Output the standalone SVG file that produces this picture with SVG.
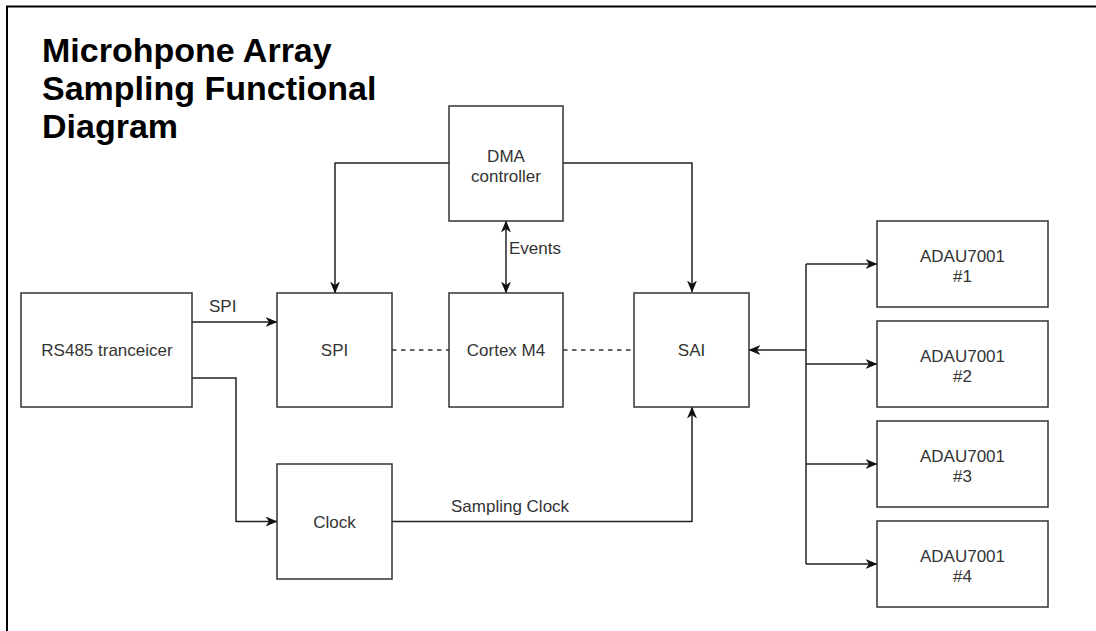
<svg xmlns="http://www.w3.org/2000/svg" width="1096" height="631" viewBox="0 0 1096 631">
  <defs>
    <marker id="arr" viewBox="0 0 12 10" markerWidth="12" markerHeight="10" refX="11.5" refY="5" orient="auto-start-reverse" markerUnits="userSpaceOnUse">
      <path d="M0,0 L12,5 L0,10 L3.5,5 z" fill="#111"/>
    </marker>
    <style>
      .box { fill: #fff; stroke: #333; stroke-width: 1.5; }
      .lbl { font-family: "Liberation Sans", Arial, sans-serif; font-size: 17px; fill: #333; text-anchor: middle; }
      .elbl { font-family: "Liberation Sans", Arial, sans-serif; font-size: 17px; fill: #333; }
      .title { font-family: "Liberation Sans", Arial, sans-serif; font-size: 34px; font-weight: bold; fill: #000; }
      .wire { fill: none; stroke: #222; stroke-width: 1.5; }
      .arrow { marker-end: url(#arr); }
      .dash { fill: none; stroke: #333; stroke-width: 1.5; stroke-dasharray: 4.5 4.5; }
    </style>
  </defs>
  <rect width="1096" height="631" fill="#fff"/>
  <path d="M7,631 V6.5 H1096" fill="none" stroke="#000" stroke-width="2"/>

  <g id="title">
    <text class="title" x="42" y="62">Microhpone Array</text>
    <text class="title" x="42" y="100">Sampling Functional</text>
    <text class="title" x="42" y="138">Diagram</text>
  </g>

  <g id="connectors">
    <path class="wire arrow" d="M192,322 H277"/>
    <path class="wire arrow" d="M192,378 H236 V521.5 H277"/>
    <path class="wire arrow" d="M449,163 H335 V293"/>
    <path class="wire arrow" d="M563,163 H692 V292"/>
    <path class="wire" d="M506,221 V293" marker-start="url(#arr)" marker-end="url(#arr)"/>
    <path class="wire arrow" d="M392,521.5 H692 V407"/>
    <path class="wire arrow" d="M806,350 H749"/>
    <path class="wire" d="M806,264 V564"/>
    <path class="wire arrow" d="M806,264 H877"/>
    <path class="wire arrow" d="M806,364 H877"/>
    <path class="wire arrow" d="M806,464 H877"/>
    <path class="wire arrow" d="M806,564 H877"/>
    <path class="dash" d="M392,350 H449"/>
    <path class="dash" d="M563,350 H634"/>
    <text class="elbl" x="209" y="312">SPI</text>
    <text class="elbl" x="509" y="254">Events</text>
    <text class="elbl" x="451" y="512">Sampling Clock</text>
  </g>

  <g id="rs485">
    <rect class="box" x="21" y="293" width="171" height="114"/>
    <text class="lbl" x="107" y="356">RS485 tranceicer</text>
  </g>
  <g id="spi">
    <rect class="box" x="277" y="293" width="115" height="114"/>
    <text class="lbl" x="334.5" y="356">SPI</text>
  </g>
  <g id="cortex">
    <rect class="box" x="449" y="293" width="114" height="114"/>
    <text class="lbl" x="506" y="356">Cortex M4</text>
  </g>
  <g id="sai">
    <rect class="box" x="634" y="293" width="115" height="114"/>
    <text class="lbl" x="691.5" y="356">SAI</text>
  </g>
  <g id="dma">
    <rect class="box" x="449" y="106" width="114" height="115"/>
    <text class="lbl" x="506" y="162">DMA</text>
    <text class="lbl" x="506" y="181.5">controller</text>
  </g>
  <g id="clock">
    <rect class="box" x="277" y="464" width="115" height="115"/>
    <text class="lbl" x="334.5" y="527.5">Clock</text>
  </g>
  <g id="adau1">
    <rect class="box" x="877" y="221" width="171" height="86"/>
    <text class="lbl" x="962.5" y="262">ADAU7001</text>
    <text class="lbl" x="962.5" y="281.5">#1</text>
  </g>
  <g id="adau2">
    <rect class="box" x="877" y="321" width="171" height="86"/>
    <text class="lbl" x="962.5" y="362">ADAU7001</text>
    <text class="lbl" x="962.5" y="381.5">#2</text>
  </g>
  <g id="adau3">
    <rect class="box" x="877" y="421" width="171" height="86"/>
    <text class="lbl" x="962.5" y="462">ADAU7001</text>
    <text class="lbl" x="962.5" y="481.5">#3</text>
  </g>
  <g id="adau4">
    <rect class="box" x="877" y="521" width="171" height="86"/>
    <text class="lbl" x="962.5" y="562">ADAU7001</text>
    <text class="lbl" x="962.5" y="581.5">#4</text>
  </g>
</svg>
